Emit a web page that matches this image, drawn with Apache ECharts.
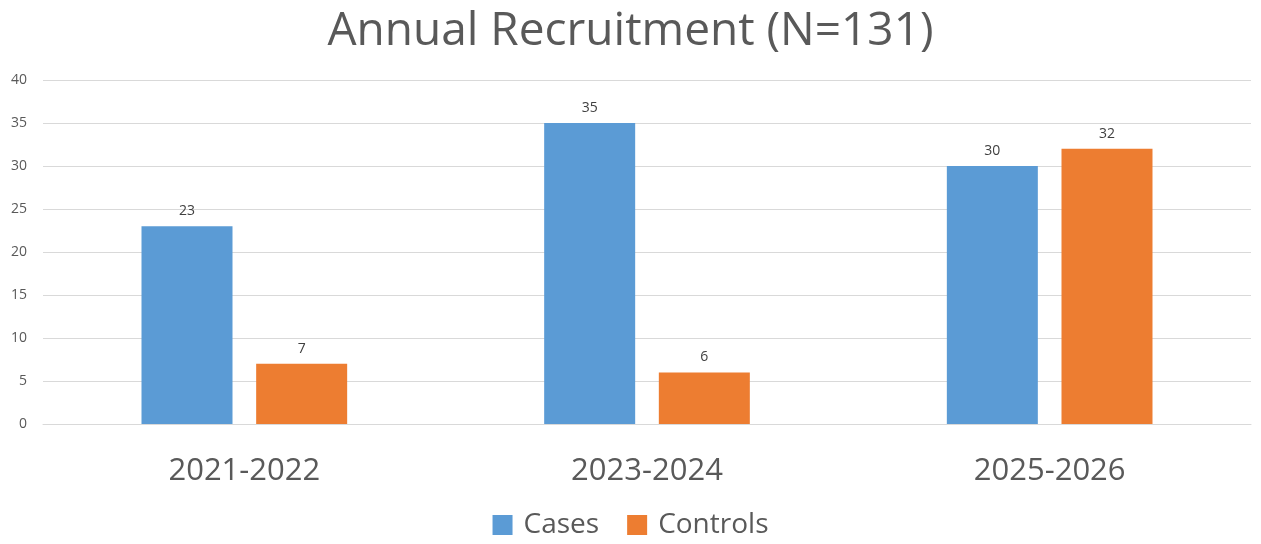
<!DOCTYPE html>
<html>
<head>
<meta charset="utf-8">
<script src="https://cdn.jsdelivr.net/npm/echarts@6/dist/echarts.min.js"></script>
<style>
  html, body { margin: 0; padding: 0; background: #fff; }
  #chart { width: 1261px; height: 544px; }
</style>
</head>
<body>
<div id="chart"></div>
<script>
const categories = ['2021-2022', '2023-2024', '2025-2026'];
const cases = [23, 35, 30];
const controls = [7, 6, 32];
const yTicks = { min: 0, max: 40, interval: 5 };

const font = '"Open Sans", "Noto Sans", sans-serif';
const chart = echarts.init(document.getElementById('chart'));
chart.setOption({
  animation: false,
  textStyle: { fontFamily: font },
  title: {
    text: 'Annual Recruitment (N=131)',
    left: 'center',
    top: 4,
    textStyle: { color: '#595959', fontSize: 46, fontWeight: 'normal', fontFamily: font }
  },
  legend: {
    bottom: 0,
    left: 'center',
    itemWidth: 20,
    itemHeight: 20,
    itemGap: 28,
    icon: 'rect',
    textStyle: { color: '#595959', fontSize: 28, fontFamily: font, padding: [0, 0, 0, 6] }
  },
  grid: { left: 43, right: 10, top: 80, bottom: 120 },
  xAxis: {
    type: 'category',
    data: categories,
    axisLine: { lineStyle: { color: '#d9d9d9' } },
    axisTick: { show: false },
    axisLabel: { color: '#595959', fontSize: 31, margin: 32 }
  },
  yAxis: {
    type: 'value',
    min: yTicks.min,
    max: yTicks.max,
    interval: yTicks.interval,
    axisLine: { show: false },
    axisTick: { show: false },
    axisLabel: { color: '#595959', fontSize: 14, margin: 16 },
    splitLine: { lineStyle: { color: '#d9d9d9' } }
  },
  series: [
    {
      name: 'Cases',
      type: 'bar',
      data: cases,
      barWidth: 91,
      barGap: '26%',
      itemStyle: { color: '#5B9BD5' },
      label: { show: true, position: 'top', color: '#404040', fontSize: 14, distance: 8 }
    },
    {
      name: 'Controls',
      type: 'bar',
      data: controls,
      barWidth: 91,
      itemStyle: { color: '#ED7D31' },
      label: { show: true, position: 'top', color: '#404040', fontSize: 14, distance: 8 }
    }
  ]
});
</script>
</body>
</html>
